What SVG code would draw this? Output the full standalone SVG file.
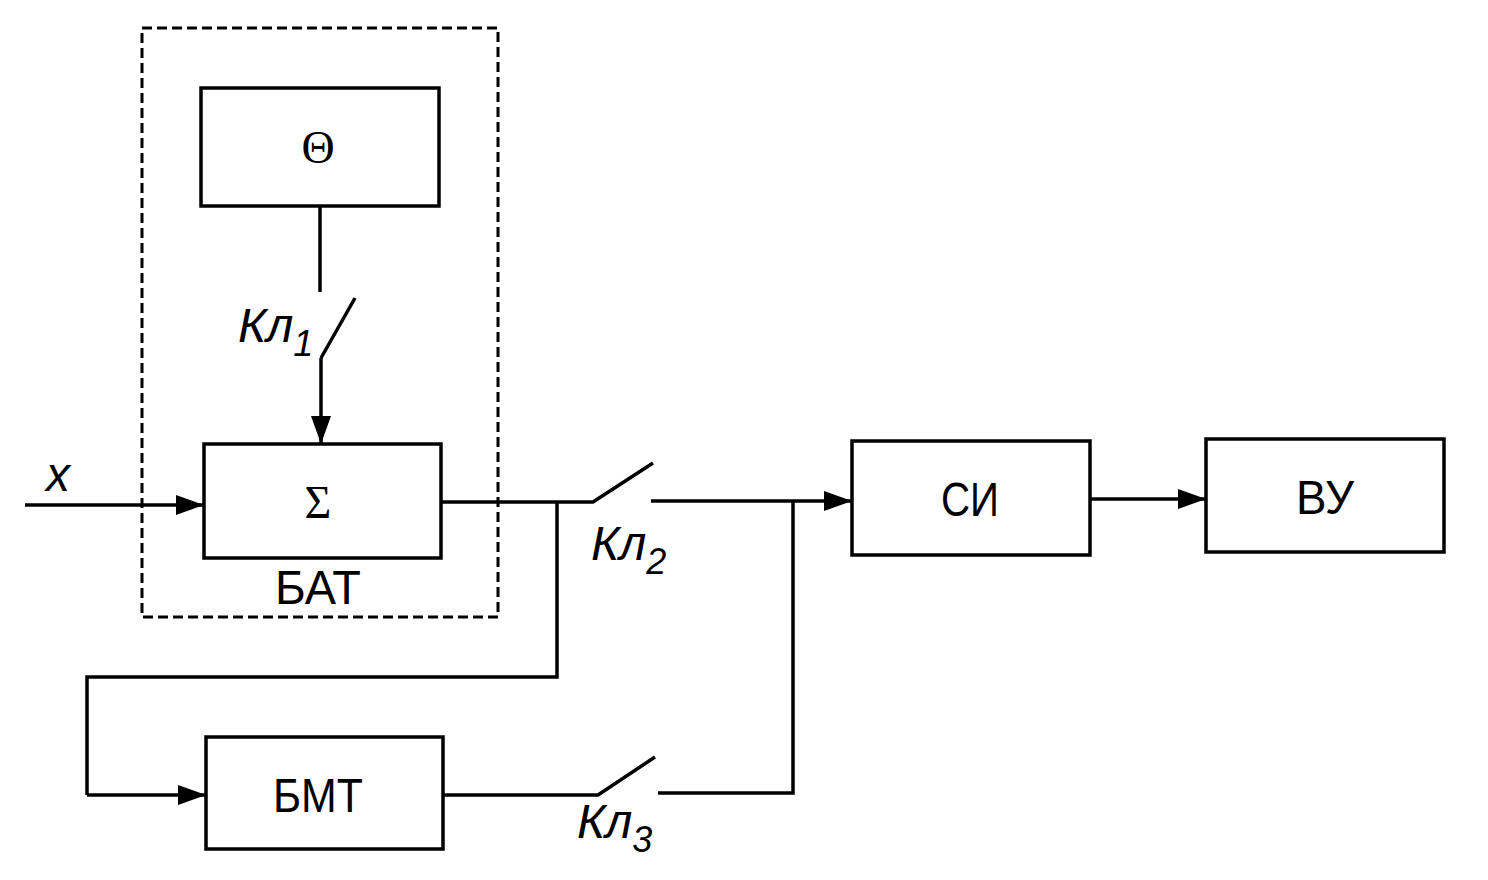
<svg xmlns="http://www.w3.org/2000/svg" width="1488" height="880" viewBox="0 0 1488 880">
<style>
.box{fill:#fff;stroke:#000;stroke-width:3.5}
.ln{fill:none;stroke:#000;stroke-width:3.5}
.t{font-family:"Liberation Sans",Arial,sans-serif;font-size:48px;text-anchor:middle;fill:#000}
.g{font-family:"Liberation Serif","Times New Roman",serif;font-size:46px;text-anchor:middle;fill:#000}
.k{font-family:"Liberation Sans",Arial,sans-serif;font-size:48px;font-style:italic;fill:#000}
.s{font-size:36px}
</style>
<defs>
<marker id="ar" viewBox="0 0 28 20" refX="28" refY="10" markerWidth="28" markerHeight="20" markerUnits="userSpaceOnUse" orient="auto">
<path d="M0,0 L28,10 L0,20 Z" fill="#000"/>
</marker>
</defs>
<rect width="1488" height="880" fill="#fff"/>
<g id="bat">
<rect x="142" y="28" width="356" height="589" fill="none" stroke="#000" stroke-width="3" stroke-dasharray="10,5"/>
<text class="t" x="318" y="604" textLength="86" lengthAdjust="spacingAndGlyphs">БАТ</text>
</g>
<g id="theta">
<rect class="box" x="201" y="88" width="238" height="118"/>
<text class="g" x="318" y="163">Θ</text>
</g>
<g id="sigma">
<rect class="box" x="204" y="444" width="237" height="114"/>
<text class="g" x="318" y="518">Σ</text>
</g>
<g id="bmt">
<rect class="box" x="206" y="737" width="237" height="112"/>
<text class="t" x="318" y="812" textLength="90" lengthAdjust="spacingAndGlyphs">БМТ</text>
</g>
<g id="si">
<rect class="box" x="852" y="441" width="238" height="114"/>
<text class="t" x="970" y="516" textLength="58" lengthAdjust="spacingAndGlyphs">СИ</text>
</g>
<g id="vu">
<rect class="box" x="1206" y="439" width="238" height="113"/>
<text class="t" x="1325" y="514" textLength="58" lengthAdjust="spacingAndGlyphs">ВУ</text>
</g>
<g id="labels">
<text class="k" x="58" y="491" text-anchor="middle">x</text>
<text class="k" x="238" y="342">Кл<tspan class="s" dy="14">1</tspan></text>
<text class="k" x="591" y="560">Кл<tspan class="s" dy="14">2</tspan></text>
<text class="k" x="577" y="838">Кл<tspan class="s" dy="14">3</tspan></text>
</g>
<g id="connectors">
<path class="ln" d="M320,206 V292"/>
<path class="ln" d="M355,298 L321,358"/>
<path class="ln" d="M321,358 V444" marker-end="url(#ar)"/>
<path class="ln" d="M25,505 H204" marker-end="url(#ar)"/>
<path class="ln" d="M441,502 H593 L653,463"/>
<path class="ln" d="M651,501 H852" marker-end="url(#ar)"/>
<path class="ln" d="M557,502 V677 H87 V795"/>
<path class="ln" d="M87,795 H206" marker-end="url(#ar)"/>
<path class="ln" d="M443,795 H598 L655,757"/>
<path class="ln" d="M658,793 H793 V501"/>
<path class="ln" d="M1090,499 H1206" marker-end="url(#ar)"/>
</g>
</svg>
